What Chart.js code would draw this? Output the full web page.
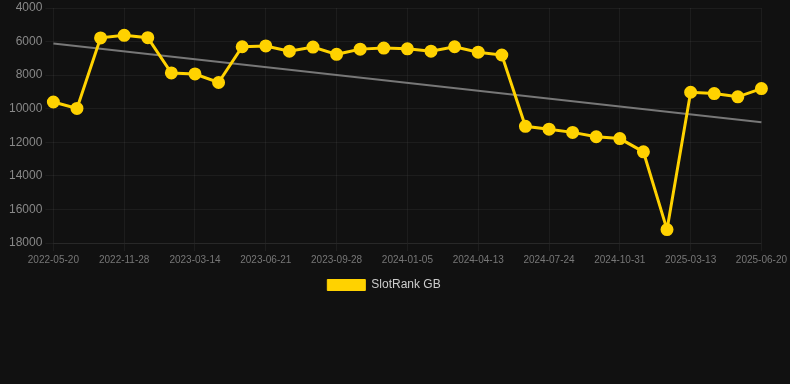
<!DOCTYPE html>
<html>
<head>
<meta charset="utf-8">
<script src="https://cdn.jsdelivr.net/npm/chart.js@4/dist/chart.umd.min.js"></script>
<style>
html,body{margin:0;padding:0;background:#111111;}
#wrap{width:790px;height:301px;position:relative;}
</style>
</head>
<body>
<div id="wrap"><canvas id="c"></canvas></div>
<script>
const categories = [
  "2022-05-20","2022-07-23","2022-09-25","2022-11-28","2023-01-02","2023-02-07",
  "2023-03-14","2023-04-16","2023-05-19","2023-06-21","2023-07-24","2023-08-26",
  "2023-09-28","2023-10-31","2023-12-03","2024-01-05","2024-02-07","2024-03-11",
  "2024-04-13","2024-05-17","2024-06-20","2024-07-24","2024-08-26","2024-09-28",
  "2024-10-31","2024-12-14","2025-01-27","2025-03-13","2025-04-15","2025-05-18",
  "2025-06-20"
];
const slotRankGB = [
  9600, 9980, 5780, 5630, 5770, 7870, 7930, 8440, 6310, 6260,
  6570, 6330, 6760, 6450, 6390, 6430, 6570, 6310, 6630, 6800,
  11050, 11220, 11410, 11670, 11780, 12570, 17200, 9020, 9100, 9290,
  8800
];
const trendStart = 6120;
const trendEnd = 10800;
const yTicks = [4000, 6000, 8000, 10000, 12000, 14000, 16000, 18000];

const trend = categories.map((_, i) => i === 0 ? trendStart : (i === categories.length - 1 ? trendEnd : null));

const FONT = 'Liberation Sans, Arial, sans-serif';
const GRID = 'rgba(255,255,255,0.05)';

new Chart(document.getElementById('c'), {
  type: 'line',
  data: {
    labels: categories,
    datasets: [
      {
        label: 'SlotRank GB',
        data: slotRankGB,
        borderColor: '#FFD200',
        backgroundColor: '#FFD200',
        borderWidth: 3,
        pointRadius: 5,
        pointHoverRadius: 5,
        pointBackgroundColor: '#FFD200',
        pointBorderColor: '#FFD200',
        tension: 0,
        order: 1
      },
      {
        label: 'trend',
        data: trend,
        borderColor: '#777777',
        borderWidth: 2,
        pointRadius: 0,
        spanGaps: true,
        fill: false,
        order: 2
      }
    ]
  },
  options: {
    responsive: true,
    maintainAspectRatio: false,
    animation: false,
    layout: { padding: { left: 6, right: 28, top: 0, bottom: 0 } },
    plugins: {
      legend: {
        position: 'bottom',
        labels: {
          color: '#cccccc',
          font: { family: FONT, size: 12 },
          boxWidth: 38,
          boxHeight: 11,
          filter: (item) => item.text !== 'trend',
          generateLabels: (chart) => Chart.defaults.plugins.legend.labels.generateLabels(chart).map(l => Object.assign(l, { lineWidth: 1 }))
        }
      },
      tooltip: { enabled: false }
    },
    scales: {
      x: {
        grid: { color: GRID },
        border: { color: GRID },
        ticks: {
          color: '#777777',
          font: { family: FONT, size: 10 },
          maxRotation: 0,
          autoSkip: true,
          maxTicksLimit: 11
        }
      },
      y: {
        reverse: true,
        min: 4000,
        max: 18000,
        afterBuildTicks: (axis) => { axis.ticks = yTicks.map(v => ({ value: v })); },
        afterFit: (scale) => { scale.paddingTop = 6; },
        grid: { color: GRID },
        border: { display: false },
        ticks: {
          color: '#888888',
          font: { family: FONT, size: 12 },
          callback: (v) => String(v)
        }
      }
    }
  }
});
</script>
</body>
</html>
